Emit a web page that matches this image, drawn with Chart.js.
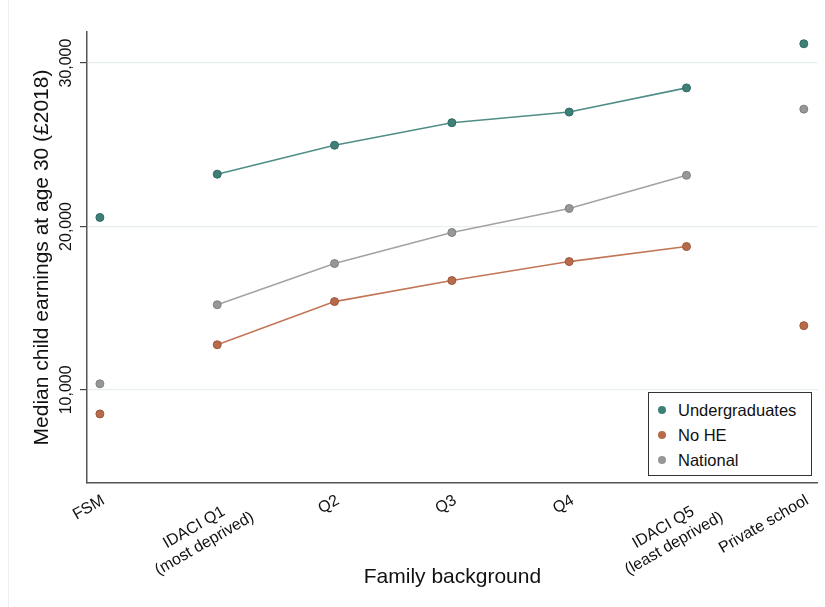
<!DOCTYPE html>
<html>
<head>
<meta charset="utf-8">
<script src="https://cdn.jsdelivr.net/npm/chart.js@4.4.1/dist/chart.umd.min.js"></script>
<style>
  body { margin: 0; background: #fff; }
  #wrap { position: relative; width: 825px; height: 607px; }
  #edge { position: absolute; left: 8px; top: 0; width: 1px; height: 607px; background: #eaf0f2; }
  #legend {
    position: absolute; left: 648px; top: 392px; width: 162px; height: 82px;
    border: 1px solid #333; background: #fff;
    font-family: "Liberation Sans", Arial, sans-serif; font-size: 16.5px; color: #111;
  }
  #legend div { position: absolute; left: 0; height: 20px; line-height: 20px; }
  #legend span.dot { position: absolute; left: 9px; top: 6px; width: 8px; height: 8px; border-radius: 50%; }
  #legend span.txt { position: absolute; left: 29px; white-space: nowrap; }
</style>
</head>
<body>
<div id="wrap">
  <div id="edge"></div>
  <canvas id="myChart" width="825" height="607"></canvas>
  <div id="legend"></div>
</div>
<script>
// categories along the x axis
var categories = [
  "FSM",
  ["IDACI Q1", "(most deprived)"],
  "Q2",
  "Q3",
  "Q4",
  ["IDACI Q5", "(least deprived)"],
  "Private school"
];

// median earnings at age 30 (£2018), FSM / Q1..Q5 / Private
var undergraduates = [20550, 23200, 24970, 26350, 27000, 28480, 31180];
var noHE = [8530, 12760, 15400, 16690, 17850, 18770, 13930];
var national = [10370, 15210, 17730, 19630, 21100, 23130, 27180];

var yTicks = [10000, 20000, 30000];

var series = [
  { label: "Undergraduates", values: undergraduates, fill: "#3e8078", line: "#4f8e87", edge: "#2e6a63" },
  { label: "No HE", values: noHE, fill: "#b86b4a", line: "#c27656", edge: "#9c5638" },
  { label: "National", values: national, fill: "#979797", line: "#a3a3a3", edge: "#808080" }
];

var datasets = [];
series.forEach(function (s) {
  // connected line through the IDACI quintiles
  datasets.push({
    label: s.label,
    data: s.values.slice(1, 6).map(function (v, i) { return { x: i + 1, y: v }; }),
    borderColor: s.line,
    borderWidth: 1.6,
    pointRadius: 4,
    pointBackgroundColor: s.fill,
    pointBorderColor: s.edge,
    pointBorderWidth: 1,
    tension: 0
  });
  // FSM and private school as lone points
  datasets.push({
    label: s.label + " (other)",
    data: [{ x: 0, y: s.values[0] }, { x: 6, y: s.values[6] }],
    showLine: false,
    pointRadius: 4,
    pointBackgroundColor: s.fill,
    pointBorderColor: s.edge,
    pointBorderWidth: 1
  });
});

var font = "'Liberation Sans', Arial, sans-serif";

// stata centres the lines of a two-line label; pad the short line so the
// right-aligned chart.js label looks the same
var tickFont = { family: font, size: 16 };
var measure = document.createElement("canvas").getContext("2d");
measure.font = "16px " + font;
function centreLines(lbl) {
  if (!Array.isArray(lbl)) return lbl;
  var w = lbl.map(function (t) { return measure.measureText(t).width; });
  var maxW = Math.max.apply(null, w);
  var sp = measure.measureText(" ").width;
  return lbl.map(function (t, i) {
    var n = Math.round((maxW - w[i]) / 2 / sp);
    return t + " ".repeat(n);
  });
}

var options = {
  responsive: false,
  animation: false,
  layout: { padding: { top: 32, right: 5, left: 0, bottom: 0 } },
  plugins: {
    legend: { display: false },
    tooltip: { enabled: false }
  },
  scales: {
    x: {
      type: "linear",
      min: -0.11,
      max: 6.12,
      afterBuildTicks: function (scale) {
        // two-line labels sit a little to the right of their category, as in stata
        scale.ticks = categories.map(function (c, i) {
          return { value: Array.isArray(c) ? i + 0.22 : i + 0.03 };
        });
      },
      afterFit: function (scale) { scale.height = 124; },
      grid: { display: false, drawTicks: false },
      border: { display: true, color: "#555", width: 1.5 },
      ticks: {
        minRotation: 30,
        maxRotation: 30,
        autoSkip: false,
        padding: 8,
        color: "#111",
        font: tickFont,
        callback: function (v) { return centreLines(categories[Math.round(v)]); }
      },
      title: {
        display: true,
        text: "Family background",
        color: "#111",
        font: { family: font, size: 21 },
        padding: { top: 0, bottom: 17 }
      }
    },
    y: {
      type: "linear",
      min: 4300,
      max: 31900,
      afterBuildTicks: function (scale) {
        scale.ticks = yTicks.map(function (v) { return { value: v }; });
      },
      afterFit: function (scale) { scale.width = 87; },
      grid: { color: "#e6eef2", lineWidth: 1.2, tickLength: 7, tickColor: "#444" },
      border: { display: true, color: "#555", width: 1.5 },
      ticks: {
        minRotation: 90,
        maxRotation: 90,
        crossAlign: "center",
        padding: -11,
        color: "#111",
        font: tickFont,
        callback: function (v) { return v.toLocaleString("en-GB"); }
      },
      title: {
        display: true,
        text: "Median child earnings at age 30 (£2018)",
        color: "#111",
        font: { family: font, size: 21 },
        padding: { top: 30, bottom: 0 }
      }
    }
  }
};

new Chart(document.getElementById("myChart"), {
  type: "line",
  data: { datasets: datasets },
  options: options
});

// legend box inside the plot
var legend = document.getElementById("legend");
series.forEach(function (s, i) {
  var row = document.createElement("div");
  row.style.top = (7 + i * 25) + "px";
  row.style.width = "100%";
  row.innerHTML = '<span class="dot" style="background:' + s.fill + '"></span><span class="txt">' + s.label + '</span>';
  legend.appendChild(row);
});
</script>
</body>
</html>
